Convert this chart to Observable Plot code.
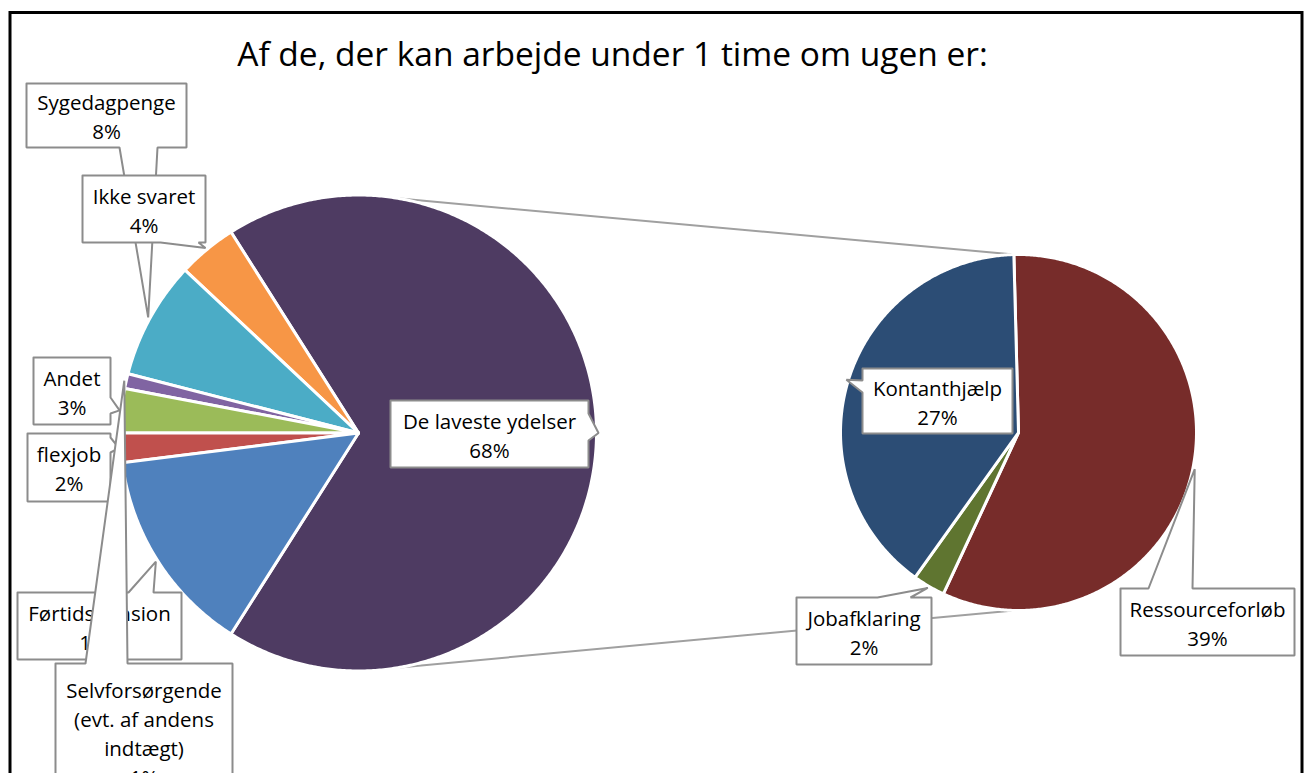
<!DOCTYPE html>
<html><head><meta charset="utf-8">
<script src="https://cdn.jsdelivr.net/npm/d3@7"></script>
<script src="https://cdn.jsdelivr.net/npm/@observablehq/plot@0.6"></script>
<style>body{margin:0;background:#fff;} #chart{width:1307px;height:773px;overflow:hidden;}</style>
</head><body><div id="chart"></div>
<script>
// ---- data ----
const title = "Af de, der kan arbejde under 1 time om ugen er:";
const mainLabels = ["De laveste ydelser","Ikke svaret","Sygedagpenge","Selvforsørgende (evt. af andens indtægt)","Andet","flexjob","Førtidspension"];
const mainValues = [68,4,8,1,3,2,14];
const subLabels = ["Ressourceforløb","Jobafklaring","Kontanthjælp"];
const subValues = [39,2,27];

// ---- styles ----
const mainColors = ["#4E3B62","#F79646","#4BACC6","#8064A2","#9BBB59","#C0504D","#4F81BD"];
const subColors = ["#772C2A","#5F7530","#2C4D75"];

// ---- layout ----
const W = 1307, H = 773;
const mainPie = {cx: 358, cy: 432.5, r: 238, start: -mainValues[0] / d3.sum(mainValues) * 180, dir: 1};
const subPie = {cx: 1018, cy: 432, r: 178, start: 91.5, dir: -1};
const labelLayout = {
  "De laveste ydelser": {box:[390,400,588,467], side:"right", base:[413,440]},
  "Sygedagpenge": {box:[26,83,186,147], side:"bottom", base:[119,157]},
  "Ikke svaret": {box:[82,175,205,242], side:"bottom", base:[160,198]},
  "Andet": {box:[33,357,110,424], side:"right", base:[397,413]},
  "flexjob": {box:[27,433,110,501], side:"right", base:[437,452]},
  "Førtidspension": {box:[17,592,181,659], side:"top", base:[128,153]},
  "Selvforsørgende (evt. af andens indtægt)": {box:[55,663,232,800], side:"top", base:[85,127], lines:["Selvforsørgende","(evt. af andens","indtægt)"]},
  "Kontanthjælp": {box:[862,368,1012,433], side:"left", base:[380,392]},
  "Jobafklaring": {box:[796,597,931,664], side:"top", base:[877,910]},
  "Ressourceforløb": {box:[1120,588,1294,655], side:"top", base:[1148,1192]}
};
const drawOrder = ["Sygedagpenge","Ikke svaret","Andet","flexjob","Førtidspension","Selvforsørgende (evt. af andens indtægt)","De laveste ydelser","Kontanthjælp","Jobafklaring","Ressourceforløb"];

// ---- geometry helpers ----
function slices(labels, values, colors, pie) {
  const total = d3.sum(values);
  let acc = 0;
  return labels.map((label, i) => {
    const a0 = pie.start + pie.dir * acc / total * 360;
    acc += values[i];
    const a1 = pie.start + pie.dir * acc / total * 360;
    return {label, value: values[i], color: colors[i], a0, a1, mid: (a0 + a1) / 2, pie};
  });
}
const pt = (pie, deg, r) => [pie.cx + r * Math.cos(deg * Math.PI / 180), pie.cy - r * Math.sin(deg * Math.PI / 180)];
function polygon(s) {
  const n = Math.max(2, Math.ceil(Math.abs(s.a1 - s.a0) * 2));
  const pts = [[s.pie.cx, s.pie.cy]];
  for (let k = 0; k <= n; k++) pts.push(pt(s.pie, s.a0 + (s.a1 - s.a0) * k / n, s.pie.r));
  pts.push([s.pie.cx, s.pie.cy]);
  return pts.map(([x, y]) => ({x, y, key: s.label, color: s.color}));
}
function callout(box, side, base, tip) {
  const [x1, y1, x2, y2] = box, [b0, b1] = base;
  let p;
  if (side === "top") p = [[x1,y1],[b0,y1],tip,[b1,y1],[x2,y1],[x2,y2],[x1,y2]];
  if (side === "right") p = [[x1,y1],[x2,y1],[x2,b0],tip,[x2,b1],[x2,y2],[x1,y2]];
  if (side === "bottom") p = [[x1,y1],[x2,y1],[x2,y2],[b1,y2],tip,[b0,y2],[x1,y2]];
  if (side === "left") p = [[x1,y1],[x2,y1],[x2,y2],[x1,y2],[x1,b1],tip,[x1,b0]];
  p.push(p[0]);
  return p.map(([x, y]) => ({x, y}));
}

const mainSlices = slices(mainLabels, mainValues, mainColors, mainPie);
const subSlices = slices(subLabels, subValues, subColors, subPie);
const allSlices = new Map([...mainSlices, ...subSlices].map(s => [s.label, s]));

// connector lines between the two pies
const connectors = [
  {a: pt(mainPie, 80, mainPie.r), b: pt(subPie, subPie.start, subPie.r)},
  {a: pt(mainPie, -80, mainPie.r), b: pt(subPie, -subPie.start, subPie.r)}
].map(({a, b}) => ({x1: a[0], y1: a[1], x2: b[0], y2: b[1]}));

const calloutMarks = drawOrder.flatMap(label => {
  const s = allSlices.get(label);
  const L = labelLayout[label];
  const tip = pt(s.pie, s.mid, s.pie.r + 2);
  const [x1, y1, x2, y2] = L.box;
  const text = (L.lines ?? [label]).join("\n") + "\n" + s.value + "%";
  return [
    Plot.line(callout(L.box, L.side, L.base, tip), {x: "x", y: "y", fill: "white", stroke: "#8C8C8C", strokeWidth: 2, strokeLinejoin: "miter"}),
    Plot.text([{x: (x1 + x2) / 2, y: (y1 + y2) / 2, text}], {x: "x", y: "y", text: "text", fontSize: 20.5, lineHeight: 1.41, fill: "black"})
  ];
});

const chart = Plot.plot({
  width: W, height: H, margin: 0,
  x: {domain: [0, W], range: [0, W], axis: null},
  y: {domain: [0, H], range: [0, H], axis: null},
  color: {type: "identity"},
  style: {fontFamily: "'Open Sans', sans-serif", background: "white"},
  marks: [
    Plot.link(connectors, {x1: "x1", y1: "y1", x2: "x2", y2: "y2", stroke: "#A0A0A0", strokeWidth: 2}),
    Plot.line(mainSlices.flatMap(polygon), {x: "x", y: "y", z: "key", fill: "color", stroke: "white", strokeWidth: 3}),
    Plot.line(subSlices.flatMap(polygon), {x: "x", y: "y", z: "key", fill: "color", stroke: "white", strokeWidth: 3}),
    ...calloutMarks,
    Plot.text([title], {x: 612, y: 54.5, text: d => d, fontSize: 33.5, fill: "black"}),
    Plot.frame({stroke: "black", strokeWidth: 3, insetLeft: 9.5, insetTop: 12, insetRight: 5.5, insetBottom: -10})
  ]
});
document.getElementById("chart").appendChild(chart);
</script>
</body></html>
